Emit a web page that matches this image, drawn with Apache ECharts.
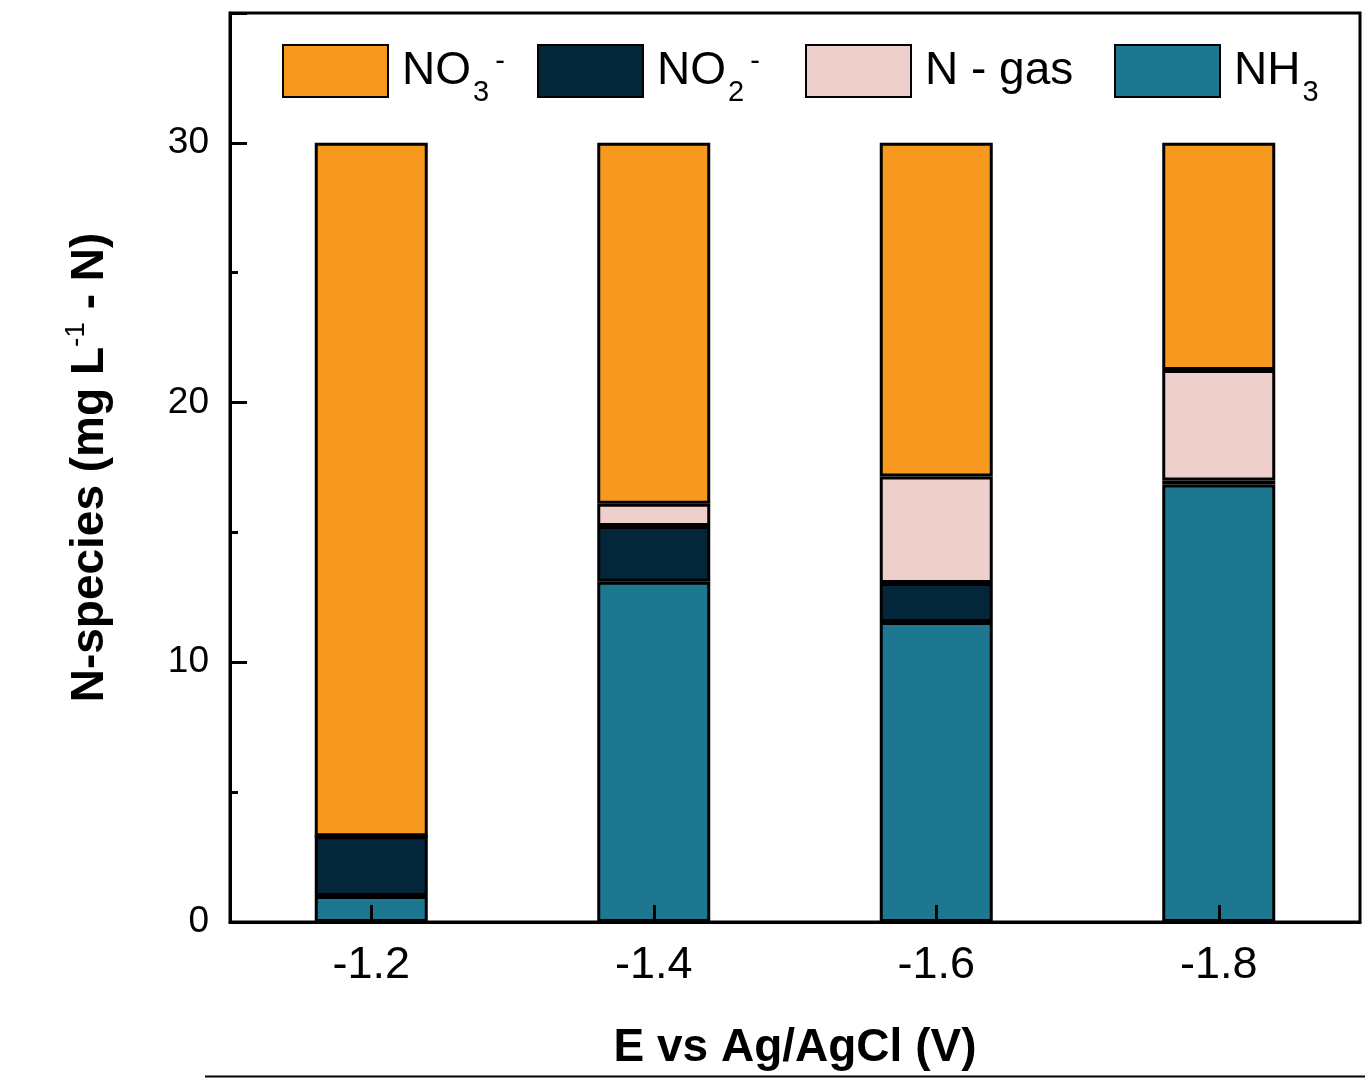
<!DOCTYPE html>
<html>
<head>
<meta charset="utf-8">
<script src="https://cdn.jsdelivr.net/npm/echarts@6/dist/echarts.min.js"></script>
<style>html,body{margin:0;padding:0;background:#fff}#c{width:1365px;height:1078px}</style>
</head>
<body>
<div id="c"></div>
<script>
const categories = ['-1.2', '-1.4', '-1.6', '-1.8'];
const nh3 = [1.0, 13.1, 11.55, 16.85];
const no2 = [2.3, 2.15, 1.5, 0.15];
const ngas = [0, 0.85, 4.1, 4.25];
const no3 = [26.7, 13.9, 12.85, 8.75];
const yTicks = [0, 10, 20, 30];

const FONT = 'Arial, "Liberation Sans", sans-serif';
const colors = { NO3: '#F7991E', NO2: '#03263A', NGAS: '#EECFCC', NH3: '#1D7791' };

const legendLabels = {
  'NO3': '{n|NO}{sub|3}{sup|-}',
  'NO2': '{n|NO}{sub|2}{sup|-}',
  'N - gas': '{n|N - gas}',
  'NH3': '{n|NH}{sub|3}'
};
const legendRich = {
  n: { fontSize: 46, fontFamily: FONT, color: '#000', lineHeight: 72, verticalAlign: 'middle' },
  sub: { fontSize: 29, fontFamily: FONT, color: '#000', lineHeight: 29, verticalAlign: 'bottom', padding: [0, 0, 0, 2] },
  sup: { fontSize: 29, fontFamily: FONT, color: '#000', lineHeight: 50, verticalAlign: 'top', padding: [12, 0, 0, 6] }
};
function mkLegend(name, left, top) {
  return {
    data: [name], left: left, top: top, orient: 'horizontal', padding: 0,
    itemWidth: 105, itemHeight: 52, itemGap: 0, selectedMode: false, icon: 'rect',
    formatter: n => legendLabels[n],
    textStyle: { rich: legendRich, padding: [0, 0, 0, 9] }
  };
}

const barStyle = c => ({ color: c, borderColor: '#000', borderWidth: 3 });

const option = {
  animation: false,
  backgroundColor: '#fff',
  legend: [mkLegend('NO3', 282, 35), mkLegend('NO2', 537, 35), mkLegend('N - gas', 805, 44), mkLegend('NH3', 1114, 44)],
  grid: { left: 230, right: 5, top: 13, bottom: 156, show: true, borderColor: '#000', borderWidth: 3, backgroundColor: 'transparent' },
  xAxis: [
    {
      type: 'category', data: categories,
      axisLine: { show: true, lineStyle: { color: '#000', width: 3 } },
      axisTick: { show: true, alignWithLabel: true, inside: true, length: 17, lineStyle: { color: '#000', width: 3 } },
      axisLabel: { fontSize: 45, fontFamily: FONT, color: '#000', margin: 21 },
      name: 'E vs Ag/AgCl (V)', nameLocation: 'middle', nameGap: 103,
      nameTextStyle: { fontSize: 46, fontWeight: 'bold', fontFamily: FONT, color: '#000' },
      z: 100, zlevel: 1
    }
  ],
  yAxis: [
    {
      type: 'value', min: 0, max: 35, interval: 10,
      axisLine: { show: true, lineStyle: { color: '#000', width: 3 } },
      axisTick: { show: true, inside: true, length: 17, lineStyle: { color: '#000', width: 3 } },
      axisLabel: { fontSize: 37, fontFamily: FONT, color: '#000', margin: 21,
        formatter: v => (yTicks.indexOf(v) >= 0 ? String(v) : '') },
      splitLine: { show: false },
      name: '{b|N-species (mg L}{sup|-1}{b| - N)}', nameLocation: 'middle', nameGap: 112, nameRotate: 90,
      nameTextStyle: {
        rich: {
          b: { fontSize: 46, fontWeight: 'bold', fontFamily: FONT, color: '#000', lineHeight: 56, verticalAlign: 'middle' },
          sup: { fontSize: 28, fontFamily: FONT, color: '#000', lineHeight: 40, verticalAlign: 'top' }
        }
      },
      z: 100, zlevel: 1
    },
    {
      type: 'value', min: 0, max: 35, interval: 5, position: 'left',
      axisLine: { show: false },
      axisTick: { show: true, inside: true, length: 8, lineStyle: { color: '#000', width: 3 } },
      axisLabel: { show: false },
      splitLine: { show: false },
      z: 100, zlevel: 1
    }
  ],
  series: [
    { name: 'NH3', type: 'bar', stack: 'total', data: nh3, barWidth: '40%', itemStyle: barStyle(colors.NH3), z: 1 },
    { name: 'NO2', type: 'bar', stack: 'total', data: no2, barWidth: '40%', itemStyle: barStyle(colors.NO2), z: 1 },
    { name: 'N - gas', type: 'bar', stack: 'total', data: ngas, barWidth: '40%', itemStyle: barStyle(colors.NGAS), z: 1 },
    { name: 'NO3', type: 'bar', stack: 'total', data: no3, barWidth: '40%', itemStyle: barStyle(colors.NO3), z: 1 }
  ],
  graphic: [
    { type: 'line', shape: { x1: 205, y1: 1076.5, x2: 1365, y2: 1076.5 }, style: { stroke: '#000', lineWidth: 2 } }
  ]
};

const chart = echarts.init(document.getElementById('c'), null, { renderer: 'canvas' });
chart.setOption(option);
</script>
</body>
</html>
